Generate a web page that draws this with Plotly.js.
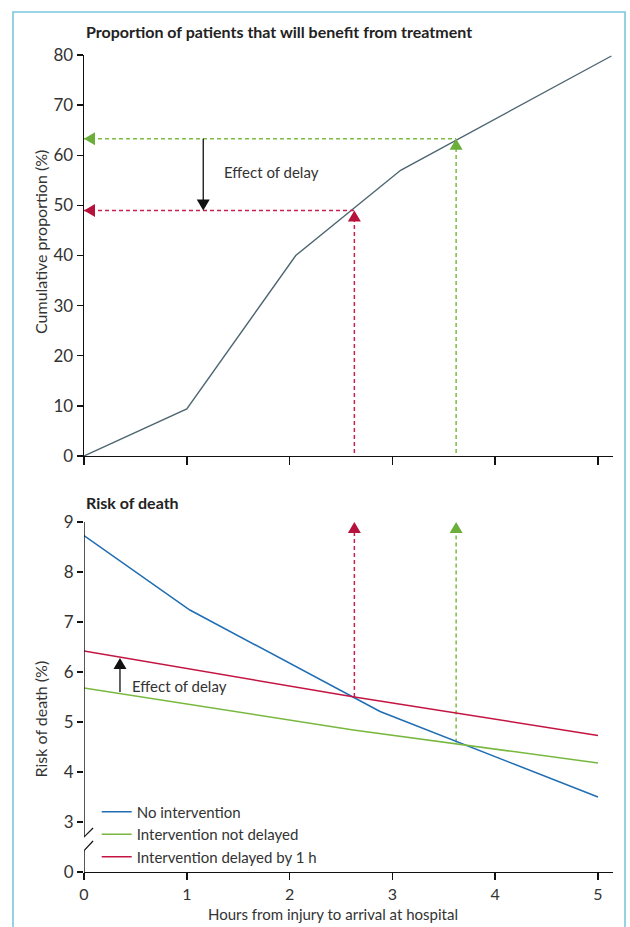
<!DOCTYPE html>
<html><head><meta charset="utf-8">
<script src="https://cdn.plot.ly/plotly-3.0.1.min.js"></script>
<style>html,body{margin:0;padding:0;background:#fff}#chart{width:630px;height:927px}</style>
</head><body><div id="chart"></div>
<script>
// ---- data ----
var benefitHours = [0, 1, 2.06, 3.08, 5.13];
var benefitPct   = [0, 9.4, 40, 57, 79.8];
var noIntHours = [0, 1.03, 2.88, 5.0];
var noIntRisk  = [8.73, 7.24, 5.21, 3.5];
var notDelayedHours = [0, 2.62, 5.0];
var notDelayedRisk  = [5.68, 4.84, 4.18];
var delayedHours = [0, 2.63, 5.0];
var delayedRisk  = [6.42, 5.5, 4.73];
var onTimeHour = 3.62, delayedHour = 2.63;
var onTimeBenefit = 63.3, delayedBenefit = 49;
var onTimeRiskAt = 4.59, delayedRiskAt = 5.5;
var effectArrowTopX = 1.16, effectArrowBottomX = 0.35, effectArrowBottomFrom = 5.6, effectArrowBottomTo = 6.28;
var xTicks = [0, 1, 2, 3, 4, 5];
var topYTicks = [0, 10, 20, 30, 40, 50, 60, 70, 80];
var bottomYTickVals = [2, 3, 4, 5, 6, 7, 8, 9];
var bottomYTickText = ['0', '3', '4', '5', '6', '7', '8', '9'];
var legendNames = ['No intervention', 'Intervention not delayed', 'Intervention delayed by 1 h'];

// ---- styles ----
var FONT = 'Lato, "Open Sans", sans-serif';
var cBlue = '#1f6db3', cGreen = '#78b83f', cRed = '#c41442', cTop = '#4d6672';
var cDRed = '#c8204f', cDGreen = '#7dbb44';
var DASH = '4px,3px';

var traces = [
  {x: benefitHours, y: benefitPct, xaxis: 'x', yaxis: 'y', mode: 'lines', line: {color: cTop, width: 1.4}, showlegend: false, hoverinfo: 'skip'},
  // top dashed
  {x: [0, onTimeHour], y: [onTimeBenefit, onTimeBenefit], xaxis: 'x', yaxis: 'y', mode: 'lines', line: {color: cDGreen, width: 1.5, dash: DASH}, showlegend: false},
  {x: [onTimeHour, onTimeHour], y: [0.6, onTimeBenefit - 2], xaxis: 'x', yaxis: 'y', mode: 'lines', line: {color: cDGreen, width: 1.5, dash: DASH}, showlegend: false},
  {x: [0, delayedHour], y: [delayedBenefit, delayedBenefit], xaxis: 'x', yaxis: 'y', mode: 'lines', line: {color: cDRed, width: 1.5, dash: DASH}, showlegend: false},
  {x: [delayedHour, delayedHour], y: [0.6, delayedBenefit - 2], xaxis: 'x', yaxis: 'y', mode: 'lines', line: {color: cDRed, width: 1.5, dash: DASH}, showlegend: false},
  {x: [effectArrowTopX, effectArrowTopX], y: [onTimeBenefit, delayedBenefit + 1], xaxis: 'x', yaxis: 'y', mode: 'lines', line: {color: '#111', width: 1.3}, showlegend: false},
  // bottom dashed
  {x: [delayedHour, delayedHour], y: [delayedRiskAt, 8.79], xaxis: 'x2', yaxis: 'y2', mode: 'lines', line: {color: cDRed, width: 1.5, dash: DASH}, showlegend: false},
  {x: [onTimeHour, onTimeHour], y: [onTimeRiskAt, 8.79], xaxis: 'x2', yaxis: 'y2', mode: 'lines', line: {color: cDGreen, width: 1.5, dash: DASH}, showlegend: false},
  {x: [effectArrowBottomX, effectArrowBottomX], y: [effectArrowBottomFrom, effectArrowBottomTo - 0.1], xaxis: 'x2', yaxis: 'y2', mode: 'lines', line: {color: '#111', width: 1.3}, showlegend: false},
  // bottom series
  {x: noIntHours, y: noIntRisk, xaxis: 'x2', yaxis: 'y2', mode: 'lines', name: legendNames[0], line: {color: cBlue, width: 1.5}},
  {x: notDelayedHours, y: notDelayedRisk, xaxis: 'x2', yaxis: 'y2', mode: 'lines', name: legendNames[1], line: {color: cGreen, width: 1.5}},
  {x: delayedHours, y: delayedRisk, xaxis: 'x2', yaxis: 'y2', mode: 'lines', name: legendNames[2], line: {color: cRed, width: 1.5}}
];

function tri(xref, yref, x, y, path, color) {
  return {type: 'path', xref: xref, yref: yref, xsizemode: 'pixel', ysizemode: 'pixel', xanchor: x, yanchor: y,
          path: path, fillcolor: color, line: {width: 0}, layer: 'above'};
}
var UP = 'M-6.5,-11 L6.5,-11 L0,0 Z';
var LEFT = 'M11,6.5 L11,-6.5 L0,0 Z';
var DOWN = 'M-6.5,11 L6.5,11 L0,0 Z';

var axLine = {color: '#111', width: 1.4};
var shapes = [
  // frame
  {type: 'rect', xref: 'paper', yref: 'paper', x0: -0.1342, x1: 1.0227, y0: -0.2, y1: 1.0526, line: {color: '#7cc6df', width: 1.6}, layer: 'below'},
  tri('x', 'y', onTimeHour, onTimeBenefit, UP, '#6cae3a'),
  tri('x', 'y', 0, onTimeBenefit, LEFT, '#6cae3a'),
  tri('x', 'y', delayedHour, delayedBenefit, UP, '#b5123c'),
  tri('x', 'y', 0, delayedBenefit, LEFT, '#b5123c'),
  tri('x', 'y', effectArrowTopX, delayedBenefit, DOWN, '#111'),
  tri('x2', 'y2', delayedHour, 9, UP, '#b5123c'),
  tri('x2', 'y2', onTimeHour, 9, UP, '#6cae3a'),
  tri('x2', 'y2', effectArrowBottomX, effectArrowBottomTo, UP, '#111'),
  // broken y axis (bottom)
  {type: 'line', xref: 'x2', yref: 'y2', x0: 0, x1: 0, y0: 9, y1: 2.7, line: axLine},
  {type: 'line', xref: 'x2', yref: 'y2', x0: 0, x1: 0, y0: 2.42, y1: 2, line: axLine},
  {type: 'line', xref: 'x2', yref: 'y2', x0: -0.078, x1: 0.088, y0: 2.54, y1: 2.88, line: {color: '#111', width: 1.2}},
  {type: 'line', xref: 'x2', yref: 'y2', x0: -0.078, x1: 0.088, y0: 2.26, y1: 2.62, line: {color: '#111', width: 1.2}}
];

var txt = {family: FONT, size: 15, color: '#333'};
var axTitleFont = {family: FONT, size: 16, color: '#333'};
var annotations = [
  {xref: 'paper', yref: 'paper', x: 0, y: 1.0282, xanchor: 'left', yanchor: 'middle', showarrow: false,
   text: '<b>Proportion of patients that will benefit from treatment</b>', font: {family: FONT, size: 16, color: '#222'}},
  {xref: 'paper', yref: 'paper', x: 0, y: 0.4517, xanchor: 'left', yanchor: 'middle', showarrow: false,
   text: '<b>Risk of death</b>', font: {family: FONT, size: 16, color: '#222'}},
  {xref: 'paper', yref: 'paper', x: -0.0832, y: 0.7711, xanchor: 'center', yanchor: 'middle', textangle: -90, showarrow: false, text: 'Cumulative proportion (%)', font: axTitleFont},
  {xref: 'paper', yref: 'paper', x: -0.0832, y: 0.188, xanchor: 'center', yanchor: 'middle', textangle: -90, showarrow: false, text: 'Risk of death (%)', font: axTitleFont},
  {xref: 'paper', yref: 'paper', x: 0.47, y: -0.051, xanchor: 'center', yanchor: 'middle', showarrow: false, text: 'Hours from injury to arrival at hospital', font: txt},
  {xref: 'x', yref: 'y', x: 1.34, y: 56.7, xanchor: 'left', yanchor: 'middle', showarrow: false, text: 'Effect of delay', font: txt},
  {xref: 'x2', yref: 'y2', x: 0.45, y: 5.72, xanchor: 'left', yanchor: 'middle', showarrow: false, text: 'Effect of delay', font: txt}
];

var tickFont = {family: FONT, size: 17, color: '#333'};
var layout = {
  width: 630, height: 927,
  margin: {l: 84, r: 17, t: 55, b: 55},
  paper_bgcolor: '#fff', plot_bgcolor: 'rgba(0,0,0,0)',
  showlegend: true,
  legend: {x: 0.024, y: 0.0935, xanchor: 'left', yanchor: 'top', bgcolor: 'rgba(0,0,0,0)', font: txt, tracegroupgap: 0, itemwidth: 30},
  xaxis: {domain: [0, 1], anchor: 'y', range: [0, 5.146], tickvals: xTicks, showticklabels: false, ticks: 'outside', ticklen: 8, tickwidth: 1.4, tickcolor: '#111',
          showline: true, linecolor: '#111', linewidth: 1.4, showgrid: false, zeroline: false, fixedrange: true},
  yaxis: {domain: [0.5092, 1], anchor: 'x', range: [0, 80], tickvals: topYTicks, ticks: 'outside', ticklen: 6, tickwidth: 1.4, tickcolor: '#111',
          showline: true, linecolor: '#111', linewidth: 1.4, showgrid: false, zeroline: false, tickfont: tickFont, fixedrange: true},
  xaxis2: {domain: [0, 1], anchor: 'y2', range: [0, 5.146], tickvals: xTicks, ticks: 'outside', ticklen: 7, tickwidth: 1.4, tickcolor: '#111',
           showline: true, linecolor: '#111', linewidth: 1.4, showgrid: false, zeroline: false, tickfont: {family: FONT, size: 16, color: '#333'}, fixedrange: true},
  yaxis2: {domain: [0, 0.4284], anchor: 'x2', range: [2, 9], tickvals: bottomYTickVals, ticktext: bottomYTickText, ticks: 'outside', ticklen: 6, tickwidth: 1.4, tickcolor: '#111',
           showline: false, showgrid: false, zeroline: false, tickfont: tickFont, fixedrange: true},
  shapes: shapes,
  annotations: annotations
};
Plotly.newPlot('chart', traces, layout, {displayModeBar: false, staticPlot: true});
</script></body></html>
